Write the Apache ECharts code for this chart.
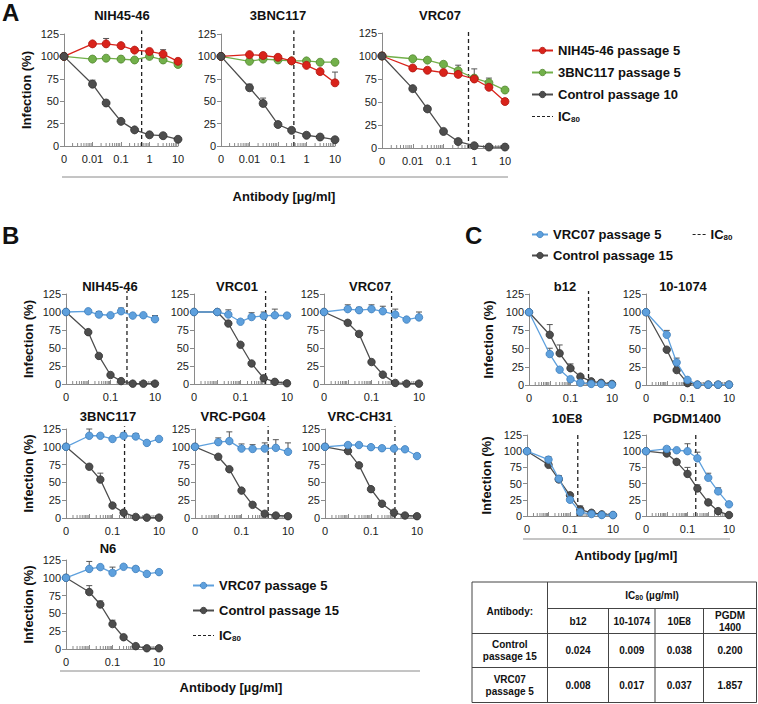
<!DOCTYPE html>
<html><head><meta charset="utf-8">
<script src="https://cdn.jsdelivr.net/npm/echarts@6.0.0/dist/echarts.min.js"></script>
<style>html,body{margin:0;padding:0;background:#fff}#c{width:758px;height:704px}</style>
</head><body><div id="c"></div>
<script>
// ================= DATA =================
const doses = [0, 0.01, 0.03, 0.1, 0.3, 1, 3, 10];       // µg/ml; dose 0 is drawn at the "0" tick
const zeroDoseTick = 0.001;
const xTickLabelsA = ['0', '0.01', '0.1', '1', '10'];
const xTickLabelsBC = ['0', '', '0.1', '', '10'];
const yTickLabels = [0, 25, 50, 75, 100, 125];

const nameNih5 = 'NIH45-46 passage 5';
const nameBnc5 = '3BNC117 passage 5';
const nameCtl10 = 'Control passage 10';
const nameVrc5 = 'VRC07 passage 5';
const nameCtl15 = 'Control passage 15';
const nameIC = 'IC80';

// ---- Panel A ----
const aNih_nih5 = [100, 114, 114, 112, 107, 105.5, 102.5, 94.5];
const aNih_nih5_sd = [0, 2, 6, 0, 0, 0, 5, 1];
const aNih_bnc5 = [100, 97, 98, 97, 96, 100, 96, 91];
const aNih_ctl10 = [100, 69, 48, 27.5, 18, 12.5, 11.5, 7.5];
const aNih_ctl10_sd = [0, 4.5, 0, 0, 0, 0, 0, 0];

const aBnc_nih5 = [100, 102, 101, 99, 95, 90, 83, 70.5];
const aBnc_nih5_sd = [0, 1.5, 0, 0, 0, 0, 0, 12];
const aBnc_bnc5 = [100, 94.5, 97, 96, 95, 95, 93.5, 93.5];
const aBnc_ctl10 = [100, 65, 47.5, 24, 17.5, 12, 10, 7];
const aBnc_ctl10_sd = [0, 4, 6, 0, 0, 0, 0, 0];

const aVrc_nih5 = [100, 87, 84.5, 82, 80, 75, 66, 50.5];
const aVrc_nih5_sd = [0, 0, 0, 0, 0, 0, 0, 3];
const aVrc_bnc5 = [100, 97, 95.5, 91, 84, 76, 71, 63];
const aVrc_bnc5_sd = [0, 2.5, 0, 0, 6, 10, 5, 0];
const aVrc_ctl10 = [100, 64.5, 42.5, 18, 7, 2.5, 1, 1];

const ic80LinesA = [0.53, 0.36, 0.65];

// ---- Panel B ----
const bNih_vrc5 = [100, 101, 96.5, 95.5, 101, 95, 95.5, 90];
const bNih_vrc5_sd = [0, 0, 4, 0, 4.5, 0, 0, 5];
const bNih_ctl15 = [100, 72, 39, 12.5, 4, 0.5, 0.5, 0.5];

const bVrc01_vrc5 = [100, 100, 96.5, 86.5, 93, 94.5, 95.5, 95];
const bVrc01_vrc5_sd = [0, 3.5, 6.5, 0, 6, 5.5, 8.5, 0];
const bVrc01_ctl15 = [100, 100, 84, 54.5, 28.5, 8, 3, 1];

const bVrc07_vrc5 = [100, 104, 102.5, 104, 101, 96.5, 89.5, 92.5];
const bVrc07_vrc5_sd = [0, 6, 4, 6, 7, 7.5, 0, 7.5];
const bVrc07_ctl15 = [100, 85, 69.5, 30.5, 13, 1.5, 0.5, 0.5];

const bBnc_vrc5 = [100, 115.5, 115.5, 111, 115.5, 114.5, 105.5, 111];
const bBnc_vrc5_sd = [0, 9.5, 0, 0, 4, 4, 0, 0];
const bBnc_ctl15 = [100, 72, 54, 17.5, 7.5, 1.5, 0.5, 0.5];
const bBnc_ctl15_sd = [0, 0, 9, 3, 0, 0, 0, 0];

const bPg04_vrc5 = [100, 106.5, 108, 97.5, 97, 97.5, 98.5, 93];
const bPg04_vrc5_sd = [0, 6, 13, 6.5, 6, 8, 11.5, 12.5];
const bPg04_ctl15 = [100, 86, 68.5, 38.5, 18.5, 6, 3.5, 2.5];

const bCh31_vrc5 = [100, 102.5, 102.5, 99.5, 98, 97.5, 96.5, 87];
const bCh31_vrc5_sd = [0, 1.5, 1.5, 1.5, 2, 2, 1.5, 3.5];
const bCh31_ctl15 = [100, 94, 74, 40.5, 20, 7.5, 3.5, 2.5];
const bCh31_ctl15_sd = [0, 0, 0, 2.5, 0, 0, 0, 0];

const bN6_vrc5 = [100, 112.5, 115, 107, 115.5, 112.5, 105.5, 108];
const bN6_vrc5_sd = [0, 10.5, 0, 8, 0, 3.5, 0, 0];
const bN6_ctl15 = [100, 80, 62.5, 35, 16.5, 4, 1, 1];
const bN6_ctl15_sd = [0, 9, 5, 5.5, 0, 0, 0, 0];

const ic80LinesB = [0.55, 1.2, 0.7, 0.33, 1.4, 1.1, null];

// ---- Panel C ----
const cB12_vrc5 = [100, 42.5, 21, 8, 3, 1.5, 1.5, 0.5];
const cB12_vrc5_sd = [0, 8, 0, 0, 0, 0, 0, 0];
const cB12_ctl15 = [100, 69, 43.5, 23, 11.5, 5, 3, 1.5];
const cB12_ctl15_sd = [0, 14, 11.5, 6, 0, 0, 0, 0];

const c1074_vrc5 = [100, 69, 31, 7, 0.5, 0.5, 0.5, 0.5];
const c1074_vrc5_sd = [0, 6, 6, 0, 0, 0, 0, 0];
const c1074_ctl15 = [100, 48.5, 20.5, 2.5, 0.5, 0.5, 0.5, 0.5];

const c10E8_vrc5 = [100, 87, 57.5, 25, 6, 3, 1.5, 1.5];
const c10E8_vrc5_sd = [0, 0, 5, 0, 0, 0, 0, 0];
const c10E8_ctl15 = [100, 79, 56.5, 32, 10, 5, 2.5, 1.5];
const c10E8_ctl15_sd = [0, 12.5, 0, 2.5, 5.5, 0, 0, 0];

const cPgdm_vrc5 = [100, 103.5, 101.5, 100, 89, 59, 38, 18];
const cPgdm_vrc5_sd = [0, 3.5, 0, 11.5, 9.5, 7, 5.5, 0];
const cPgdm_ctl15 = [100, 96.5, 83.5, 65, 42.5, 21, 7.5, 1.5];
const cPgdm_ctl15_sd = [0, 0, 0, 10, 5.5, 0, 0, 0];

const ic80LinesC = [0.74, null, 0.23, 0.25];

// ---- IC80 table ----
const tableAntibodies = ['b12', '10-1074', '10E8', 'PGDM\n1400'];
const tableRowNames = ['Control\npassage 15', 'VRC07\npassage 5'];
const tableControl15 = ['0.024', '0.009', '0.038', '0.200'];
const tableVrc07P5 = ['0.008', '0.017', '0.037', '1.857'];

// ================= STYLE / LAYOUT =================
const FONT = '"Liberation Sans", Arial, Helvetica, sans-serif';
const styles = {
  [nameNih5]: {c: '#d9231b', e: '#b0150f'},
  [nameBnc5]: {c: '#72b04a', e: '#52862f'},
  [nameCtl10]: {c: '#4d4d4d', e: '#333333'},
  [nameVrc5]: {c: '#5ea0dd', e: '#3f7fbd'},
  [nameCtl15]: {c: '#4d4d4d', e: '#333333'}
};

const panels = [
  {t: 'NIH45-46', tx: 122, ty: 15, g: [64, 34, 114, 112], A: true, yName: true, ic: ic80LinesA[0],
   curves: [[nameBnc5, aNih_bnc5, null], [nameNih5, aNih_nih5, aNih_nih5_sd], [nameCtl10, aNih_ctl10, aNih_ctl10_sd]]},
  {t: '3BNC117', tx: 278, ty: 15, g: [221, 34, 114, 112], A: true, ic: ic80LinesA[1],
   curves: [[nameBnc5, aBnc_bnc5, null], [nameNih5, aBnc_nih5, aBnc_nih5_sd], [nameCtl10, aBnc_ctl10, aBnc_ctl10_sd]]},
  {t: 'VRC07', tx: 440, ty: 15, g: [382, 33, 123, 115], A: true, ic: ic80LinesA[2],
   curves: [[nameBnc5, aVrc_bnc5, aVrc_bnc5_sd], [nameNih5, aVrc_nih5, aVrc_nih5_sd], [nameCtl10, aVrc_ctl10, null]]},

  {t: 'NIH45-46', tx: 110, ty: 286, g: [66, 294, 89, 90], yName: true, ic: ic80LinesB[0],
   curves: [[nameCtl15, bNih_ctl15, null], [nameVrc5, bNih_vrc5, bNih_vrc5_sd]]},
  {t: 'VRC01', tx: 237, ty: 286, g: [194, 294, 93, 90], ic: ic80LinesB[1],
   curves: [[nameCtl15, bVrc01_ctl15, null], [nameVrc5, bVrc01_vrc5, bVrc01_vrc5_sd]]},
  {t: 'VRC07', tx: 370, ty: 286, g: [324, 294, 95, 90], ic: ic80LinesB[2],
   curves: [[nameCtl15, bVrc07_ctl15, null], [nameVrc5, bVrc07_vrc5, bVrc07_vrc5_sd]]},
  {t: '3BNC117', tx: 108, ty: 416, g: [66, 429, 93, 89], yName: true, ic: ic80LinesB[3],
   curves: [[nameCtl15, bBnc_ctl15, bBnc_ctl15_sd], [nameVrc5, bBnc_vrc5, bBnc_vrc5_sd]]},
  {t: 'VRC-PG04', tx: 233, ty: 416, g: [195, 429, 93, 89], ic: ic80LinesB[4],
   curves: [[nameCtl15, bPg04_ctl15, null], [nameVrc5, bPg04_vrc5, bPg04_vrc5_sd]]},
  {t: 'VRC-CH31', tx: 360, ty: 416, g: [325, 429, 92, 89], ic: ic80LinesB[5],
   curves: [[nameCtl15, bCh31_ctl15, bCh31_ctl15_sd], [nameVrc5, bCh31_vrc5, bCh31_vrc5_sd]]},
  {t: 'N6', tx: 108, ty: 548, g: [66, 560, 93, 89], yName: true, ic: ic80LinesB[6],
   curves: [[nameCtl15, bN6_ctl15, bN6_ctl15_sd], [nameVrc5, bN6_vrc5, bN6_vrc5_sd]]},

  {t: 'b12', tx: 565, ty: 286, g: [529, 294, 83, 91], yName: true, yGap: 34, ic: ic80LinesC[0],
   curves: [[nameCtl15, cB12_ctl15, cB12_ctl15_sd], [nameVrc5, cB12_vrc5, cB12_vrc5_sd]]},
  {t: '10-1074', tx: 683, ty: 286, g: [646, 294, 83, 91], ic: ic80LinesC[1],
   curves: [[nameCtl15, c1074_ctl15, null], [nameVrc5, c1074_vrc5, c1074_vrc5_sd]]},
  {t: '10E8', tx: 567, ty: 418, g: [527, 435, 86, 81], yName: true, yGap: 34, ic: ic80LinesC[2],
   curves: [[nameCtl15, c10E8_ctl15, c10E8_ctl15_sd], [nameVrc5, c10E8_vrc5, c10E8_vrc5_sd]]},
  {t: 'PGDM1400', tx: 687, ty: 418, g: [646, 435, 83, 81], ic: ic80LinesC[3],
   curves: [[nameCtl15, cPgdm_ctl15, cPgdm_ctl15_sd], [nameVrc5, cPgdm_vrc5, cPgdm_vrc5_sd]]}
];

// log-axis minor tick positions (2..9 within each decade)
const minorTickVals = [];
for (let k = -3; k < 1; k++) for (let m = 2; m <= 9; m++) minorTickVals.push(m * Math.pow(10, k));

const xOf = d => (d === 0 ? zeroDoseTick : d);
const AXIS_COLOR = '#8a8a8a';
const IC_TOP = 129;

const grids = [], xAxes = [], yAxes = [], series = [], graphics = [];

panels.forEach((p, i) => {
  const [l, t, w, h] = p.g;
  grids.push({left: l, top: t, width: w, height: h});
  const labs = p.A ? xTickLabelsA : xTickLabelsBC;
  xAxes.push({
    type: 'log', logBase: 10, gridIndex: i, min: 0.001, max: 10,
    axisLine: {show: true, lineStyle: {color: AXIS_COLOR, width: 1}},
    axisTick: {show: true, inside: true, length: 4, lineStyle: {color: AXIS_COLOR}},
    axisLabel: {fontSize: 11, color: '#1a1a1a', margin: 7, fontFamily: FONT,
      formatter: v => { const k = Math.round(Math.log10(v)) + 3; return labs[k] !== undefined ? labs[k] : ''; }},
    splitLine: {show: false}, minorTick: {show: false}, minorSplitLine: {show: false}
  });
  yAxes.push({
    type: 'value', gridIndex: i, min: 0, max: 125, interval: 25,
    axisLine: {show: true, lineStyle: {color: AXIS_COLOR, width: 1}},
    axisTick: {show: true, inside: false, length: 4, lineStyle: {color: AXIS_COLOR}},
    axisLabel: {fontSize: 11, color: '#1a1a1a', margin: 5, fontFamily: FONT,
      formatter: v => (yTickLabels.indexOf(v) >= 0 ? String(v) : '')},
    splitLine: {show: false},
    name: p.yName ? 'Infection (%)' : '', nameLocation: 'middle', nameRotate: 90,
    nameGap: p.yGap || 31,
    nameTextStyle: {fontSize: 13, fontWeight: 'bold', color: '#111', fontFamily: FONT}
  });
  // minor ticks
  series.push({
    type: 'custom', xAxisIndex: i, yAxisIndex: i, silent: true, z: 1,
    data: minorTickVals.map(v => [v, 0]),
    renderItem: (params, api) => {
      const c = api.coord([api.value(0), 0]);
      return {type: 'line', shape: {x1: c[0], y1: c[1], x2: c[0], y2: c[1] - 3},
        style: {stroke: AXIS_COLOR, lineWidth: 1}};
    }
  });
  // IC80 dashed line
  if (p.ic) {
    series.push({
      type: 'line', name: nameIC, xAxisIndex: i, yAxisIndex: i, silent: true, clip: false, z: 2,
      data: [[p.ic, 0], [p.ic, IC_TOP]], symbol: 'none',
      lineStyle: {color: '#222', width: 1.3, type: [4, 3]}, itemStyle: {color: '#222'}
    });
  }
  // error bars (upper only)
  p.curves.forEach(([name, vals, sd]) => {
    if (!sd) return;
    series.push({
      type: 'custom', xAxisIndex: i, yAxisIndex: i, silent: true, z: 3,
      data: doses.map((d, k) => [xOf(d), vals[k], sd[k]]).filter(r => r[2] > 0),
      renderItem: (params, api) => {
        const x = api.value(0), y = api.value(1), s = api.value(2);
        const a = api.coord([x, y]), b = api.coord([x, y + s]);
        return {type: 'group', children: [
          {type: 'line', shape: {x1: a[0], y1: a[1], x2: b[0], y2: b[1]}, style: {stroke: '#555', lineWidth: 1}},
          {type: 'line', shape: {x1: b[0] - 3, y1: b[1], x2: b[0] + 3, y2: b[1]}, style: {stroke: '#555', lineWidth: 1}}
        ]};
      }
    });
  });
  // curves
  p.curves.forEach(([name, vals], k) => {
    const st = styles[name];
    series.push({
      type: 'line', name, xAxisIndex: i, yAxisIndex: i, silent: true, z: 4 + k,
      data: doses.map((d, j) => [xOf(d), vals[j]]),
      symbol: 'circle', symbolSize: p.A ? 8 : 7.5,
      lineStyle: {color: st.c, width: 1.3},
      itemStyle: {color: st.c, borderColor: st.e, borderWidth: 0.8}
    });
  });
  // panel title
  graphics.push({type: 'text', x: p.tx, y: p.ty, style: {text: p.t, font: 'bold 13px ' + FONT, fill: '#111',
    textAlign: 'center', align: 'center', textVerticalAlign: 'middle', verticalAlign: 'middle'}});
});

function label(text, x, y, font, align) {
  return {type: 'text', x, y, style: {text, font, fill: '#111',
    textAlign: align || 'center', align: align || 'center', textVerticalAlign: 'middle', verticalAlign: 'middle'}};
}
function hline(x1, x2, y, color, w) {
  return {type: 'line', shape: {x1, y1: y, x2, y2: y}, style: {stroke: color || '#888', lineWidth: w || 1}};
}
function vline(x, y1, y2, color, w) {
  return {type: 'line', shape: {x1: x, y1, x2: x, y2}, style: {stroke: color || '#888', lineWidth: w || 1}};
}

// panel letters
graphics.push(label('A', 2, 12, 'bold 24px ' + FONT, 'left'));
graphics.push(label('B', 2, 235, 'bold 24px ' + FONT, 'left'));
graphics.push(label('C', 465, 235, 'bold 24px ' + FONT, 'left'));
// shared x-axis titles + separator lines
graphics.push(hline(62, 508, 177, '#8a8a8a'));
graphics.push(label('Antibody [µg/ml]', 284, 196, 'bold 13px ' + FONT));
graphics.push(hline(60, 420, 671, '#8a8a8a'));
graphics.push(label('Antibody [µg/ml]', 231, 687, 'bold 13px ' + FONT));
graphics.push(hline(523, 730, 539, '#8a8a8a'));
graphics.push(label('Antibody [µg/ml]', 626, 555, 'bold 13px ' + FONT));

// IC80 table
const T = {l: 472, r: 756.5, t: 582, b: 702.5, c0: 547.5, cols: [547.5, 608.5, 655, 703.5, 756.5], h1: 608.5, h2: 633.5, h3: 667.5};
const TC = '#444';
graphics.push({type: 'rect', shape: {x: T.l, y: T.t, width: T.r - T.l, height: T.b - T.t}, style: {fill: '#fff', stroke: TC, lineWidth: 1}});
graphics.push(vline(T.c0, T.t, T.b, TC));
for (let k = 1; k < 4; k++) graphics.push(vline(T.cols[k], T.h1, T.b, TC));
graphics.push(hline(T.c0, T.r, T.h1, TC));
graphics.push(hline(T.l, T.r, T.h2, TC));
graphics.push(hline(T.l, T.r, T.h3, TC));
const TF = 'bold 10px ' + FONT;
graphics.push({type: 'text', x: (T.c0 + T.r) / 2, y: (T.t + T.h1) / 2, style: {
  text: '{b|IC}{s|80}{b| (µg/ml)}', fill: '#111', textAlign: 'center', align: 'center',
  textVerticalAlign: 'middle', verticalAlign: 'middle',
  rich: {b: {font: TF, fill: '#111', color: '#111'}, s: {font: 'bold 7px ' + FONT, fill: '#111', color: '#111', padding: [5, 0, 0, 0]}}}});
graphics.push(label('Antibody:', (T.l + T.c0) / 2, 611, TF));
const rowMid = [(T.h2 + T.h3) / 2, (T.h3 + T.b) / 2];
tableAntibodies.forEach((ab, k) => {
  const cx = (T.cols[k] + T.cols[k + 1]) / 2;
  graphics.push({type: 'text', x: cx, y: (T.h1 + T.h2) / 2, style: {text: ab, font: TF, fill: '#111', lineHeight: 12,
    textAlign: 'center', align: 'center', textVerticalAlign: 'middle', verticalAlign: 'middle'}});
  graphics.push(label(tableControl15[k], cx, rowMid[0], TF));
  graphics.push(label(tableVrc07P5[k], cx, rowMid[1], TF));
});
tableRowNames.forEach((rn, k) => {
  graphics.push({type: 'text', x: (T.l + T.c0) / 2, y: rowMid[k], style: {text: rn, font: TF, fill: '#111', lineHeight: 12,
    textAlign: 'center', align: 'center', textVerticalAlign: 'middle', verticalAlign: 'middle'}});
});

// legends
const legendText = {fontSize: 13, fontWeight: 'bold', color: '#111', fontFamily: FONT,
  rich: {sub: {fontSize: 8, fontWeight: 'bold', color: '#111', fontFamily: FONT, padding: [6, 0, 0, 0]}}};
const legendFmt = n => (n === nameIC ? 'IC{sub|80}' : n);
const icItem = {name: nameIC, itemStyle: {opacity: 0, borderWidth: 0}, lineStyle: {color: '#222', width: 1.2, type: [3, 2]}};
const legends = [
  {orient: 'vertical', left: 531, top: 44, itemWidth: 21, itemHeight: 8, itemGap: 9,
   data: [nameNih5, nameBnc5, nameCtl10, icItem]},
  {orient: 'vertical', left: 192, top: 579, itemWidth: 21, itemHeight: 8, itemGap: 12,
   data: [nameVrc5, nameCtl15, icItem]},
  {orient: 'vertical', left: 531, top: 228, itemWidth: 16, itemHeight: 8, itemGap: 8,
   data: [nameVrc5, nameCtl15]},
  {orient: 'vertical', left: 692, top: 228, itemWidth: 13, itemHeight: 8, itemGap: 8,
   data: [icItem]}
].map(lg => Object.assign({selectedMode: false, padding: 0, textStyle: legendText, formatter: legendFmt, itemStyle: {borderWidth: 0.8}}, lg));

const chart = echarts.init(document.getElementById('c'), null, {renderer: 'svg', width: 758, height: 704});
chart.setOption({
  animation: false,
  backgroundColor: '#fff',
  textStyle: {fontFamily: FONT},
  grid: grids, xAxis: xAxes, yAxis: yAxes, series,
  legend: legends,
  graphic: graphics
});
</script>
</body></html>
